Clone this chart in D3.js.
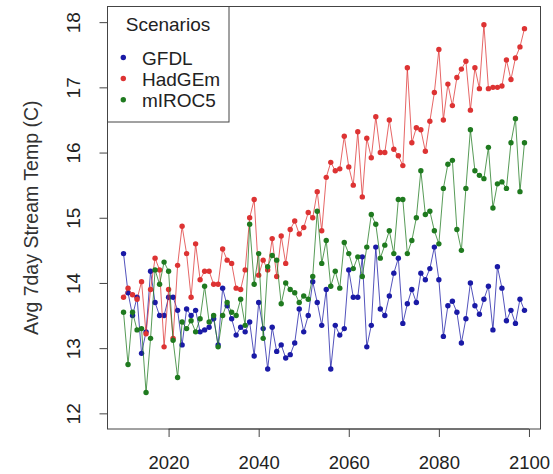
<!DOCTYPE html>
<html>
<head>
<meta charset="utf-8">
<script src="https://cdn.jsdelivr.net/npm/d3@7"></script>
<style>
  body { margin: 0; background: #fff; }
  svg { display: block; font-family: "Liberation Sans", Arial, sans-serif; }
</style>
</head>
<body>
<svg class="chart"></svg>
<script>
// years 2010..2099
var years = d3.range(2010, 2100);

var seriesNames = ["GFDL", "HadGEm", "mIROC5"];
var seriesColors = ["#1a1aa6", "#dd3333", "#1f7a1f"];

var gfdl = [
  14.45, 13.85, 13.50, 13.78, 12.92, 13.25, 14.18, 13.70, 13.50, 13.50,
  13.78, 13.78, 13.58, 13.05, 13.60, 13.50, 13.58, 13.25, 13.28, 13.32,
  13.45, 13.05, 13.92, 13.65, 13.45, 13.20, 13.32, 13.25, 13.40, 12.88,
  13.70, 13.30, 12.68, 13.32, 12.95, 13.05, 12.85, 12.90, 13.08, 13.60,
  13.25, 13.50, 14.02, 13.70, 13.35, 13.90, 12.68, 13.35, 13.20, 13.30,
  14.20, 13.78, 13.78, 14.40, 13.02, 13.35, 14.55, 13.60, 13.50, 13.80,
  14.15, 14.38, 13.38, 13.68, 13.90, 13.70, 14.15, 14.05, 14.22, 14.55,
  14.05, 13.18, 13.65, 13.72, 13.55, 13.08, 13.45, 14.00, 13.65, 13.52,
  13.75, 13.95, 13.28, 14.25, 13.92, 13.42, 13.58, 13.38, 13.75, 13.58
];

var hadgem = [
  13.78, 13.92, 13.82, 13.75, 14.02, 13.22, 13.90, 14.38, 14.20, 13.02,
  13.90, 13.15, 14.27, 14.87, 14.45, 13.78, 14.60, 14.05, 14.18, 14.18,
  13.98, 13.98, 14.52, 14.35, 14.30, 13.92, 13.90, 14.20, 15.00, 15.28,
  14.12, 14.35, 14.20, 14.68, 14.10, 14.72, 14.30, 14.82, 14.95, 14.75,
  14.85, 15.08, 15.00, 15.40, 14.80, 15.62, 15.85, 15.72, 15.75, 16.25,
  15.78, 15.50, 16.32, 15.32, 16.22, 15.92, 16.55, 16.00, 16.00, 16.50,
  16.05, 15.95, 15.80, 17.30, 16.15, 16.38, 16.35, 16.02, 16.48, 16.92,
  17.58, 16.50, 17.05, 16.72, 17.15, 17.28, 17.40, 16.65, 17.30, 16.98,
  17.96, 16.98, 17.00, 17.00, 17.02, 17.42, 17.12, 17.45, 17.62, 17.90
];

var miroc5 = [
  13.55, 12.75, 13.55, 13.28, 13.30, 12.32, 13.15, 14.20, 13.98, 14.32,
  14.18, 13.12, 12.55, 13.40, 13.30, 13.42, 13.25, 13.45, 13.95, 13.40,
  13.50, 13.02, 13.50, 13.70, 13.55, 13.50, 13.75, 13.35, 14.90, 13.98,
  14.45, 13.15, 14.25, 14.42, 14.35, 13.68, 14.00, 13.90, 13.85, 13.70,
  13.80, 13.75, 14.10, 15.10, 14.30, 14.65, 13.95, 14.18, 13.92, 14.62,
  14.45, 14.22, 14.40, 14.10, 14.55, 15.05, 14.90, 14.38, 14.58, 14.80,
  14.45, 15.28, 15.28, 14.45, 14.65, 15.00, 15.72, 15.05, 15.10, 14.80,
  14.60, 15.45, 15.82, 15.88, 14.82, 14.50, 15.45, 16.35, 15.72, 15.65,
  15.60, 16.08, 15.15, 15.52, 15.55, 15.45, 16.15, 16.52, 15.40, 16.15
];

var xTicks = [2020, 2040, 2060, 2080, 2100];
var yTicks = [12, 13, 14, 15, 16, 17, 18];

var width = 553, height = 474;
var plot = {left: 107.5, right: 540.5, top: 6.5, bottom: 429};

var svg = d3.select(".chart")
    .attr("width", width)
    .attr("height", height);

// R style 4% padding on both axes
var x = d3.scaleLinear()
    .domain([2010 - 0.04 * 89, 2099 + 0.04 * 89])
    .range([plot.left, plot.right]);

var y = d3.scaleLinear()
    .domain([12 - 0.24, 18 + 0.24])
    .range([plot.bottom, plot.top]);

var allSeries = [gfdl, hadgem, miroc5];

var line = d3.line()
    .x(function(d, i) { return x(years[i]); })
    .y(function(d) { return y(d); });

allSeries.forEach(function(vals, k) {
  svg.append("path")
      .attr("d", line(vals))
      .attr("fill", "none")
      .attr("stroke", seriesColors[k])
      .attr("stroke-opacity", 0.75)
      .attr("stroke-width", 1);

  svg.selectAll(".pt" + k)
      .data(vals)
      .enter().append("circle")
      .attr("class", "pt" + k)
      .attr("cx", function(d, i) { return x(years[i]); })
      .attr("cy", function(d) { return y(d); })
      .attr("r", 2.7)
      .attr("fill", seriesColors[k]);
});

// box round the plot
svg.append("rect")
    .attr("x", plot.left)
    .attr("y", plot.top)
    .attr("width", plot.right - plot.left)
    .attr("height", plot.bottom - plot.top)
    .attr("fill", "none")
    .attr("stroke", "#444")
    .attr("stroke-width", 1);

// x axis
var xAxis = svg.append("g")
    .attr("transform", "translate(0," + plot.bottom + ")")
    .call(d3.axisBottom(x).tickValues(xTicks).tickSize(8).tickFormat(d3.format("d")));
xAxis.select(".domain")
    .attr("d", "M" + x(2020) + ",0H" + x(2100))
    .attr("stroke", "#444");
xAxis.selectAll(".tick line").attr("stroke", "#444");
xAxis.selectAll("text")
    .attr("y", 40)
    .attr("dy", 0)
    .attr("fill", "#222")
    .style("font-size", "18.5px")
    .style("font-family", "'Liberation Sans', Arial, sans-serif");

// y axis, labels turned like R does
var yAxis = svg.append("g")
    .attr("transform", "translate(" + plot.left + ",0)")
    .call(d3.axisLeft(y).tickValues(yTicks).tickSize(8).tickFormat(d3.format("d")));
yAxis.select(".domain")
    .attr("d", "M0," + y(12) + "V" + y(18))
    .attr("stroke", "#444");
yAxis.selectAll(".tick line").attr("stroke", "#444");
yAxis.selectAll("text")
    .attr("transform", "rotate(-90)")
    .attr("x", 0)
    .attr("y", -27.5)
    .attr("dy", 0)
    .attr("text-anchor", "middle")
    .attr("fill", "#222")
    .style("font-size", "19px")
    .style("font-family", "'Liberation Sans', Arial, sans-serif");

svg.append("text")
    .attr("transform", "translate(37.5," + ((plot.top + plot.bottom) / 2) + ") rotate(-90)")
    .attr("text-anchor", "middle")
    .attr("fill", "#333")
    .style("font-size", "19.5px")
    .text("Avg 7day Stream Temp (C)");

// legend
var legend = svg.append("g");
legend.append("rect")
    .attr("x", plot.left)
    .attr("y", plot.top)
    .attr("width", 229 - plot.left)
    .attr("height", 122 - plot.top)
    .attr("fill", "#fff")
    .attr("stroke", "#444")
    .attr("stroke-width", 1);

legend.append("text")
    .attr("x", 168)
    .attr("y", 31)
    .attr("text-anchor", "middle")
    .attr("fill", "#222")
    .style("font-size", "19px")
    .text("Scenarios");

var legendY = [57.5, 78.5, 99.7];
seriesNames.forEach(function(name, k) {
  legend.append("circle")
      .attr("cx", 123.3)
      .attr("cy", legendY[k])
      .attr("r", 2.7)
      .attr("fill", seriesColors[k]);
  legend.append("text")
      .attr("x", 142)
      .attr("y", legendY[k] + 7)
      .attr("fill", "#222")
      .style("font-size", "19px")
      .text(name);
});
</script>
</body>
</html>
